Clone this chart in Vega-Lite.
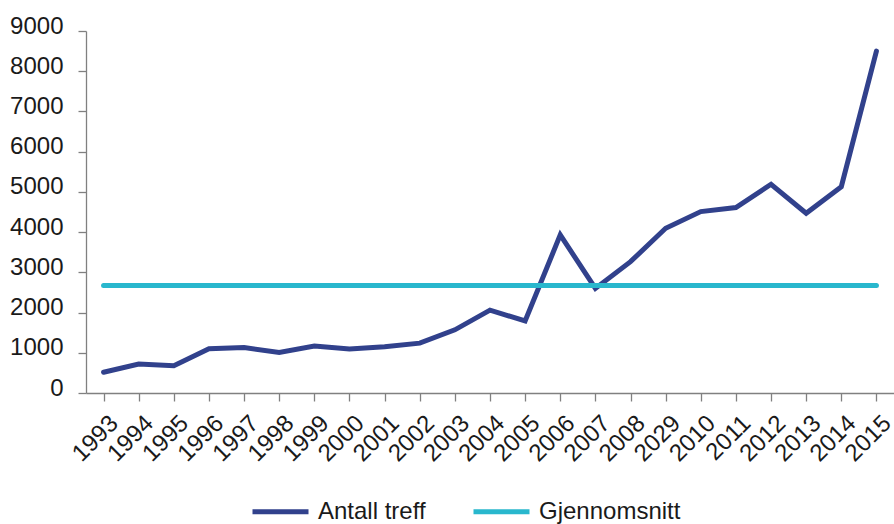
{
  "$schema": "https://vega.github.io/schema/vega-lite/v6.json",
  "width": 808,
  "height": 362,
  "autosize": "none",
  "padding": {"left": 86, "top": 31, "right": 0, "bottom": 131},
  "background": "white",
  "config": {
    "view": {"stroke": null},
    "font": "Liberation Sans",
    "axis": {"grid": false, "labelFont": "Liberation Sans", "labelFontSize": 24, "labelColor": "#1a1a1a", "domainColor": "#808080", "tickColor": "#808080", "tickSize": 8, "domainWidth": 1.3, "tickWidth": 1.3}
  },
  "data": {"values": [
    {"year": "1993", "series": "Antall treff", "value": 515},
    {"year": "1994", "series": "Antall treff", "value": 720},
    {"year": "1995", "series": "Antall treff", "value": 680},
    {"year": "1996", "series": "Antall treff", "value": 1100},
    {"year": "1997", "series": "Antall treff", "value": 1130},
    {"year": "1998", "series": "Antall treff", "value": 1010},
    {"year": "1999", "series": "Antall treff", "value": 1170},
    {"year": "2000", "series": "Antall treff", "value": 1095},
    {"year": "2001", "series": "Antall treff", "value": 1150},
    {"year": "2002", "series": "Antall treff", "value": 1240},
    {"year": "2003", "series": "Antall treff", "value": 1570},
    {"year": "2004", "series": "Antall treff", "value": 2060},
    {"year": "2005", "series": "Antall treff", "value": 1790},
    {"year": "2006", "series": "Antall treff", "value": 3930},
    {"year": "2007", "series": "Antall treff", "value": 2600},
    {"year": "2008", "series": "Antall treff", "value": 3265},
    {"year": "2029", "series": "Antall treff", "value": 4095},
    {"year": "2010", "series": "Antall treff", "value": 4510},
    {"year": "2011", "series": "Antall treff", "value": 4610},
    {"year": "2012", "series": "Antall treff", "value": 5190},
    {"year": "2013", "series": "Antall treff", "value": 4470},
    {"year": "2014", "series": "Antall treff", "value": 5130},
    {"year": "2015", "series": "Antall treff", "value": 8500},
    {"year": "1993", "series": "Gjennomsnitt", "value": 2670},
    {"year": "2015", "series": "Gjennomsnitt", "value": 2670}
  ]},
  "mark": {"type": "line", "strokeWidth": 5, "strokeCap": "round", "strokeJoin": "miter"},
  "encoding": {
    "x": {
      "field": "year", "type": "ordinal",
      "sort": ["1993","1994","1995","1996","1997","1998","1999","2000","2001","2002","2003","2004","2005","2006","2007","2008","2029","2010","2011","2012","2013","2014","2015"],
      "scale": {"paddingInner": 0, "paddingOuter": 0},
      "axis": {"title": null, "labelAngle": -45, "labelAlign": "right", "labelBaseline": "top", "labelPadding": 10, "bandPosition": 0, "labelOffset": 2}
    },
    "y": {
      "field": "value", "type": "quantitative",
      "scale": {"domain": [0, 9000], "nice": false, "zero": true},
      "axis": {"title": null, "values": [0,1000,2000,3000,4000,5000,6000,7000,8000,9000], "labelPadding": 15, "labelBaseline": "alphabetic", "labelOffset": 2, "format": "d"}
    },
    "color": {
      "field": "series", "type": "nominal",
      "scale": {"domain": ["Antall treff", "Gjennomsnitt"], "range": ["#31418c", "#29b7cd"]},
      "legend": {"title": null, "orient": "none", "direction": "horizontal", "legendX": 164, "legendY": 450, "symbolType": "stroke", "symbolSize": 3136, "symbolStrokeWidth": 5, "labelFontSize": 24, "labelFont": "Liberation Sans", "labelColor": "#1a1a1a", "labelOffset": 7, "columnPadding": 37, "labelLimit": 300}
    }
  }
}
